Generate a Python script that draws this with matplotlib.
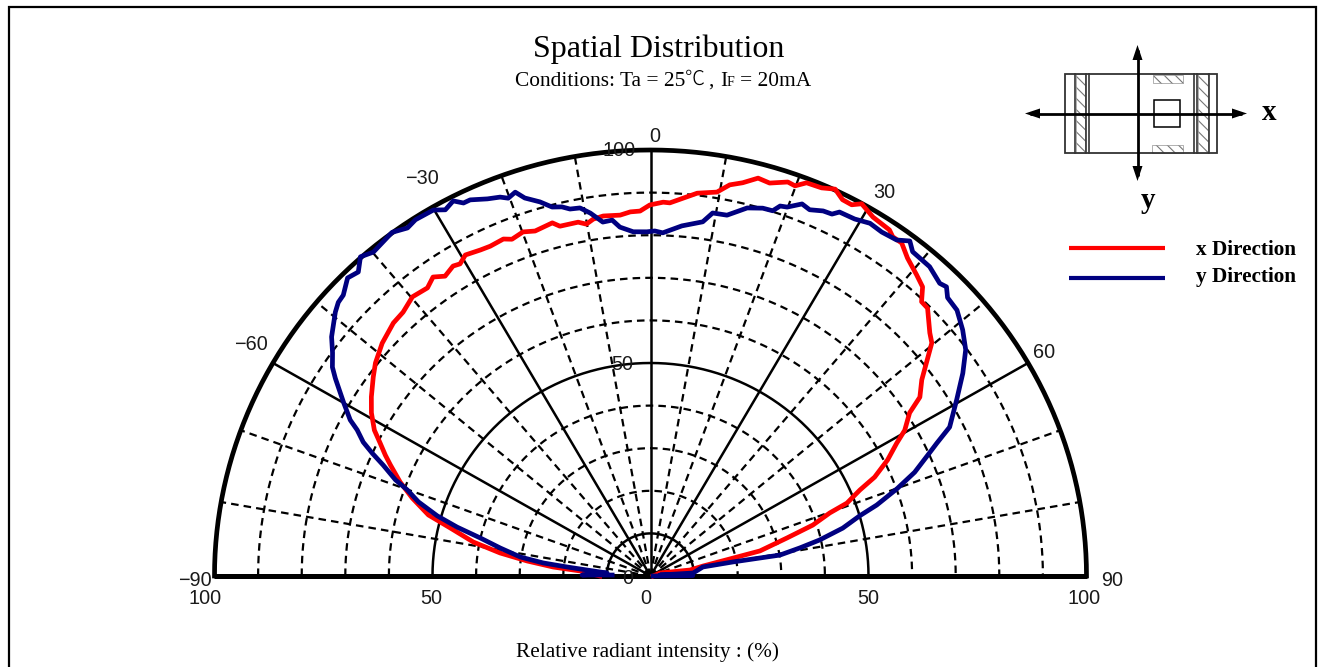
import numpy as np
import matplotlib
matplotlib.use("Agg")
import matplotlib.pyplot as plt
from matplotlib.patches import Rectangle

# measured curves: angle in degrees, relative intensity in %
red_angle = [-90,-85.8,-84.6,-82.9,-81.1,-78.9,-76.2,-74.3,-71.5,-69,-66.4,-65,-63.3,-61.6,-59.1,-56.7,-53.7,-51.6,-48.4,-44.8,-42.5,-39.8,-37.1,-35.4,-33.8,-31.9,-30.8,-29.4,-27,-25.4,-23.1,-21.9,-19.9,-18.1,-15.2,-14.2,-11.3,-10.1,-8.9,-7.3,-4.7,-3.1,-1.6,-0.1,1.9,2.9,6.8,9.6,11.2,12.9,14.8,16.5,18.8,19.9,21.2,23.3,25,26.5,27.9,29,31.2,34,34.9,36.4,38.3,40.8,42.6,44,45.3,48.3,49.7,51.6,53.5,55.8,57.2,59.6,61.1,63.4,65.7,67.2,69.2,70.2,72.2,74.1,76.8,77.6,79,81.2,72.1,90]
red_r = [11.6,16.2,22.4,28.5,34.9,41.4,47.3,52.9,57.6,61.5,65.1,67.1,69.4,72,74.6,76.6,78.9,80.5,82.3,83.7,84,85.3,84.8,86.1,84.7,85.7,85.3,86.5,85.9,85.7,86,85.2,85.9,85.2,85.9,84.7,84.7,83.9,84.8,85.2,85,85.6,85.7,87.1,87.8,87.7,90.5,91.4,93.6,94.7,96.6,96.2,97.7,97.4,99,99.2,100.2,98.7,98.6,99.9,98.5,98,97.1,97.1,95.1,93.4,92.2,89.5,89.4,85.8,84.6,80.8,77.4,74.7,70.7,67.6,64.5,60.8,56.4,52.1,48.2,43.7,39.1,32.5,25.8,18.6,12.3,9.2,2.3,0.6]
blue_angle = [-88.5,-89.2,-86,-84.5,-83.7,-82.9,-81.5,-79.2,-77.1,-75.5,-73.9,-71.9,-70.1,-68.9,-67,-65.7,-64.5,-63,-62,-59.9,-57.3,-56.1,-54.3,-52.5,-49.4,-48.1,-46.9,-44.8,-43.2,-41.6,-39.9,-36.3,-34.3,-32.8,-30.1,-28.7,-27.2,-26.1,-25.1,-22.9,-21.2,-20.2,-19,-18,-16.1,-14.6,-13.2,-12.1,-10.6,-9.2,-7.5,-6,-4.9,-2.8,-0.6,0.7,2,5,8.2,9.5,11.7,14.4,16.6,18.1,18.9,19.9,21.7,23,24.8,26.1,26.9,29.2,31.3,33.3,35.6,37.1,38.3,41.4,44,45,46.2,48.4,51.1,53.7,56.4,59.5,63,64.6,65.7,68.1,70.1,72.2,73.6,75.7,77.7,79.1,80.6,80.1,80,85.9,83.8,89.5,90]
blue_r = [8.8,15.7,10,14.6,19.2,24.8,30.2,35.1,40.1,45.8,50.9,56,59.3,62.7,66.6,70,73,75.5,78,81.4,85.9,87.9,89.8,92.2,95.2,96.2,96.5,98.6,97.9,100.2,99.1,100.1,98.9,99.5,99.3,98,99,97.5,97.5,96.1,95.4,94.5,95.3,93.3,91.4,89.5,89,88.1,87.9,86.3,83.8,84,82.2,80.9,80.8,81,80.6,82.5,84,86.4,86.5,89.2,90.1,90.2,91.8,92.1,94,93.4,94.4,94.6,95.8,96,96.9,96.6,97,98.6,97,96.8,95.5,96,94.4,94,92,89.7,86,81.5,77,72.7,70.2,65.3,60.1,54.5,50,45.5,39.7,34.9,30.1,19.2,12.2,9.8,2.2,9.7,0.6]

solid_r = [10, 50]
dashed_r = [20, 30, 40, 60, 70, 80, 90]
solid_angle = [-60, -30, 0, 30, 60]
dashed_angle = [-80, -70, -50, -40, -20, -10, 10, 20, 40, 50, 70, 80]

W, H = 1323, 667
plt.rcParams["hatch.linewidth"] = 0.8
fig = plt.figure(figsize=(W / 100, H / 100), dpi=100)

# overlay in pixel coordinates for the frame, texts and the package sketch
bg = fig.add_axes([0, 0, 1, 1])
bg.set_xlim(0, W)
bg.set_ylim(H, 0)
bg.axis("off")

# polar part drawn on a plain axes, the source is slightly squashed in height
left, right, top, base = 214.5, 1086.5, 150, 576
ax = fig.add_axes([left / W, 1 - base / H, (right - left) / W, (base - top) / H])
ax.set_xlim(-100, 100)
ax.set_ylim(0, 100)
ax.axis("off")
ax.patch.set_alpha(0)

def polar(angle, r):
    t = np.radians(angle)
    return np.asarray(r) * np.sin(t), np.asarray(r) * np.cos(t)

dash = (0, (3.4, 2.3))
arc = np.linspace(-90, 90, 361)
for a in dashed_angle:
    ax.plot(*polar([a, a], [0, 100]), color="k", lw=1.6, ls=dash, clip_on=False)
for r in dashed_r:
    ax.plot(*polar(arc, np.full(arc.size, r)), color="k", lw=1.6, ls=dash, clip_on=False)
for a in solid_angle:
    ax.plot(*polar([a, a], [0, 100]), color="k", lw=1.8, clip_on=False)
for r in solid_r:
    ax.plot(*polar(arc, np.full(arc.size, r)), color="k", lw=1.8, clip_on=False)
ax.plot(*polar(arc, np.full(arc.size, 100)), color="k", lw=3.4, clip_on=False)
ax.plot([-100, 100], [0, 0], color="k", lw=3.6, clip_on=False, solid_capstyle="butt")

ax.plot(*polar(red_angle, red_r), color="#ff0000", lw=3.4, clip_on=False, solid_joinstyle="round")
ax.plot(*polar(blue_angle, blue_r), color="#000080", lw=3.4, clip_on=False, solid_joinstyle="round")

# frame, open at the bottom
bg.plot([9, 9, 1315.5, 1315.5], [H, 7, 7, H], color="k", lw=1.6, solid_joinstyle="miter")

serif = ["Liberation Serif", "Noto Sans CJK JP"]
sans = "Liberation Sans"

bg.text(658.5, 49, "Spatial Distribution", family=serif, fontsize=23, ha="center", va="center")
bg.text(515, 81, "Conditions: Ta = 25", family=serif, fontsize=15.4, ha="left", va="center")
bg.text(685, 79, "\u2103", family="Noto Sans CJK JP", fontsize=14.5, weight="light", ha="left", va="center")
bg.text(708, 81, ",", family=serif, fontsize=15.4, ha="left", va="center")
bg.text(720, 81, "I", family=serif, fontsize=15.4, ha="left", va="center")
bg.text(727, 83, "F", family=serif, fontsize=10, ha="left", va="center")
bg.text(740, 81, "= 20mA", family=serif, fontsize=15.4, ha="left", va="center")
bg.text(647, 652, "Relative radiant intensity : (%)", family=serif, fontsize=15.3, ha="center", va="center")

tick_labels = [
    (655, 137, "0"), (619, 151, "100"), (622, 365, "50"), (628, 578, "0"),
    (422, 178, "\u221230"), (884, 192, "30"), (251, 345, "\u221260"), (1044, 352, "60"),
    (195, 581, "\u221290"), (1112, 581, "90"), (205, 598, "100"), (431, 598, "50"),
    (646, 598, "0"), (868, 598, "50"), (1084, 598, "100"),
]
for x, y, s in tick_labels:
    ax.text(x, y, s, family=sans, fontsize=14.3, color="#1a1a1a", ha="center", va="center",
            transform=bg.transData, zorder=5)

# package sketch
edge = "#333333"
for x, y, w, h in [(1076, 74, 9, 79), (1198, 74, 10, 79), (1153, 75, 30, 8), (1152, 145, 31, 8)]:
    bg.add_patch(Rectangle((x, y), w, h, fc="white", ec="#777777", lw=0.4, hatch="\\\\\\"))
bg.add_patch(Rectangle((1064.5, 73.5), 152, 79.5, fc="none", ec=edge, lw=1.3))
bg.add_patch(Rectangle((1153.5, 100), 26.5, 26.5, fc="none", ec="k", lw=1.1))
for x in [1074.5, 1086, 1089, 1194, 1197, 1209]:
    bg.plot([x, x], [73.5, 153], color=edge, lw=1.2)

# double headed axes of the sketch
bg.plot([1030, 1242], [113.5, 113.5], color="k", lw=2, solid_capstyle="butt")
bg.plot([1137.5, 1137.5], [50, 176], color="k", lw=2, solid_capstyle="butt")
bg.fill([1025, 1040, 1040], [113.5, 108.5, 118.5], color="k", lw=0)
bg.fill([1247, 1232, 1232], [113.5, 108.5, 118.5], color="k", lw=0)
bg.fill([1137.5, 1132.5, 1142.5], [45, 60, 60], color="k", lw=0)
bg.fill([1137.5, 1132.5, 1142.5], [181, 166, 166], color="k", lw=0)
bg.text(1269, 112, "x", family=serif, fontsize=21, weight="bold", ha="center", va="center")
bg.text(1148, 201, "y", family=serif, fontsize=21, weight="bold", ha="center", va="center")

# legend
bg.plot([1069, 1165], [248, 248], color="#ff0000", lw=3, solid_capstyle="butt")
bg.plot([1069, 1165], [278, 278], color="#000080", lw=3, solid_capstyle="butt")
bg.text(1196, 250, "x Direction", family=serif, fontsize=15.3, weight="bold", ha="left", va="center")
bg.text(1196, 277, "y Direction", family=serif, fontsize=15.3, weight="bold", ha="left", va="center")

fig.savefig("out.png", dpi=100)
